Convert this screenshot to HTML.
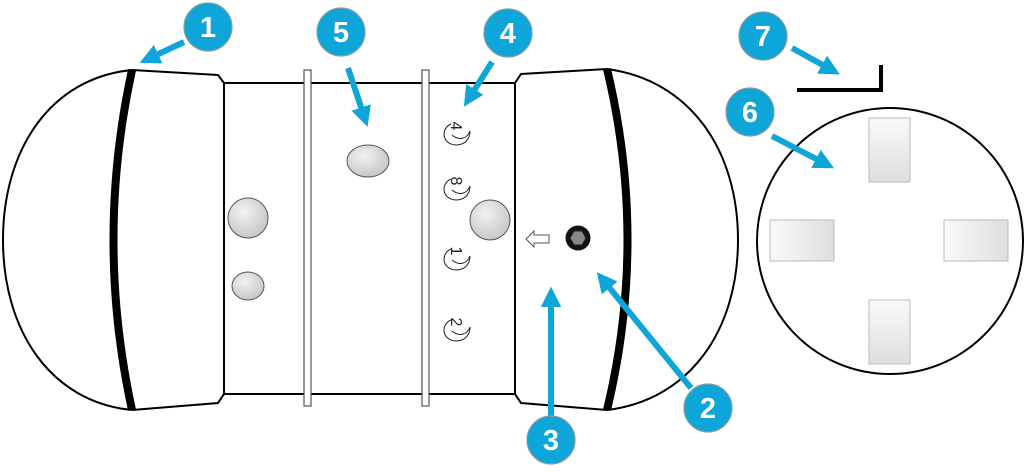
<!DOCTYPE html>
<html><head><meta charset="utf-8"><style>
html,body{margin:0;padding:0;background:#fff;}
svg{display:block;}
text{font-family:"Liberation Sans",sans-serif;}
</style></head><body>
<svg width="1024" height="474" viewBox="0 0 1024 474" xmlns="http://www.w3.org/2000/svg">
<defs>
<radialGradient id="g" cx="40%" cy="35%" r="70%"><stop offset="0" stop-color="#f2f2f2"/><stop offset="1" stop-color="#c4c4c4"/></radialGradient>
<linearGradient id="rv" x1="0" y1="0" x2="0" y2="1"><stop offset="0" stop-color="#fafafa"/><stop offset="1" stop-color="#dedede"/></linearGradient>
<linearGradient id="rh" x1="0" y1="0" x2="1" y2="0"><stop offset="0" stop-color="#fafafa"/><stop offset="1" stop-color="#dedede"/></linearGradient>
<marker id="ah" markerWidth="3.4" markerHeight="3.4" refX="1.5" refY="1.7" orient="auto" markerUnits="strokeWidth"><path d="M0,0 L3.4,1.7 L0,3.4 Z" fill="#0ea5d8"/></marker>
</defs>
<!-- left cap -->
<path d="M132,70 C50,78 3,150 3,240 C3,330 50,402 132,410" fill="#fff" stroke="#000" stroke-width="2"/>
<path d="M132,70 L218,75 L224,83 L224,394 L218,403 L132,410" fill="#fff" stroke="#000" stroke-width="2"/>
<path d="M132,70 Q95,240 132,410" fill="none" stroke="#000" stroke-width="8"/>
<!-- right cap -->
<path d="M607,69 C690,80 738,150 738,240 C738,330 690,400 607,410" fill="#fff" stroke="#000" stroke-width="2"/>
<path d="M607,69 L521,74 L515,83 L515,394 L521,403 L607,410" fill="#fff" stroke="#000" stroke-width="2"/>
<path d="M607,69 Q648,240 607,410" fill="none" stroke="#000" stroke-width="8"/>
<!-- body -->
<rect x="224" y="83" width="291" height="311" fill="#fff" stroke="#000" stroke-width="2"/>
<rect x="304" y="70" width="7" height="336" fill="#fff" stroke="#555" stroke-width="1.2"/>
<rect x="422" y="70" width="7" height="336" fill="#fff" stroke="#555" stroke-width="1.2"/>
<!-- buttons -->
<ellipse cx="368" cy="161" rx="21" ry="16" fill="url(#g)" stroke="#555" stroke-width="1"/>
<circle cx="248" cy="218" r="20" fill="url(#g)" stroke="#555" stroke-width="1"/>
<ellipse cx="248" cy="286" rx="16" ry="14" fill="url(#g)" stroke="#555" stroke-width="1"/>
<circle cx="490" cy="220" r="20" fill="url(#g)" stroke="#555" stroke-width="1"/>
<!-- moons -->
<g fill="none" stroke="#222" stroke-width="1">
<path d="M451,124 C441,128 441,144 456,145 C464,145 470,140 470,131 C467,139 459,141 452,135"/>
<path d="M451,179 C441,183 441,199 456,200 C464,200 470,195 470,186 C467,194 459,196 452,190"/>
<path d="M451,249 C441,253 441,269 456,270 C464,270 470,265 470,256 C467,264 459,266 452,260"/>
<path d="M451,320 C441,324 441,340 456,341 C464,341 470,336 470,327 C467,335 459,337 452,331"/>
</g>
<g font-size="16" fill="#222">
<text transform="translate(451,126) rotate(90)" text-anchor="middle">4</text>
<text transform="translate(451,181) rotate(90)" text-anchor="middle">8</text>
<text transform="translate(451,251) rotate(90)" text-anchor="middle">1</text>
<text transform="translate(451,322) rotate(90)" text-anchor="middle">2</text>
</g>
<!-- small arrow -->
<path d="M526,239 L534,231 L534,235 L549,235 L549,243 L534,243 L534,247 Z" fill="#fff" stroke="#555" stroke-width="1"/>
<!-- hex -->
<circle cx="578" cy="238" r="12.5" fill="#111"/>
<path d="M570,238 L574,231 L582,231 L586,238 L582,245 L574,245 Z" fill="#888" stroke="#222" stroke-width="1"/>
<!-- disc -->
<circle cx="890" cy="241" r="133" fill="#fff" stroke="#000" stroke-width="2"/>
<rect x="869" y="118" width="41" height="64" fill="url(#rv)" stroke="#bbb"/>
<rect x="869" y="300" width="41" height="64" fill="url(#rv)" stroke="#bbb"/>
<rect x="770" y="220" width="64" height="41" fill="url(#rh)" stroke="#bbb"/>
<rect x="944" y="220" width="64" height="41" fill="url(#rh)" stroke="#bbb"/>
<!-- bracket -->
<path d="M797,90 L881,90 L881,65" fill="none" stroke="#000" stroke-width="4"/>
<!-- arrows -->
<g stroke="#0ea5d8" stroke-width="6" fill="none" marker-end="url(#ah)" stroke-linecap="butt">
<line x1="184" y1="42" x2="150" y2="58"/>
<line x1="348" y1="68" x2="364" y2="116"/>
<line x1="492" y1="62" x2="470" y2="97"/>
<line x1="792" y1="48" x2="830" y2="69"/>
<line x1="772" y1="136" x2="824" y2="163"/>
<line x1="691" y1="388" x2="604" y2="281"/>
<line x1="551" y1="418" x2="551" y2="298"/>
</g>
<!-- badges -->
<g fill="#0ea5d8" stroke="#8a9aa3" stroke-width="1.2">
<circle cx="208" cy="27" r="24"/>
<circle cx="341" cy="32" r="24"/>
<circle cx="508" cy="33" r="24"/>
<circle cx="763" cy="36" r="24"/>
<circle cx="750" cy="112" r="24"/>
<circle cx="708" cy="408" r="24"/>
<circle cx="551" cy="440" r="24"/>
</g>
<g fill="#fff" font-size="29" font-weight="bold" text-anchor="middle">
<text x="208" y="37">1</text>
<text x="341" y="42">5</text>
<text x="508" y="43">4</text>
<text x="763" y="46">7</text>
<text x="750" y="122">6</text>
<text x="708" y="418">2</text>
<text x="551" y="450">3</text>
</g>
</svg>
</body></html>
